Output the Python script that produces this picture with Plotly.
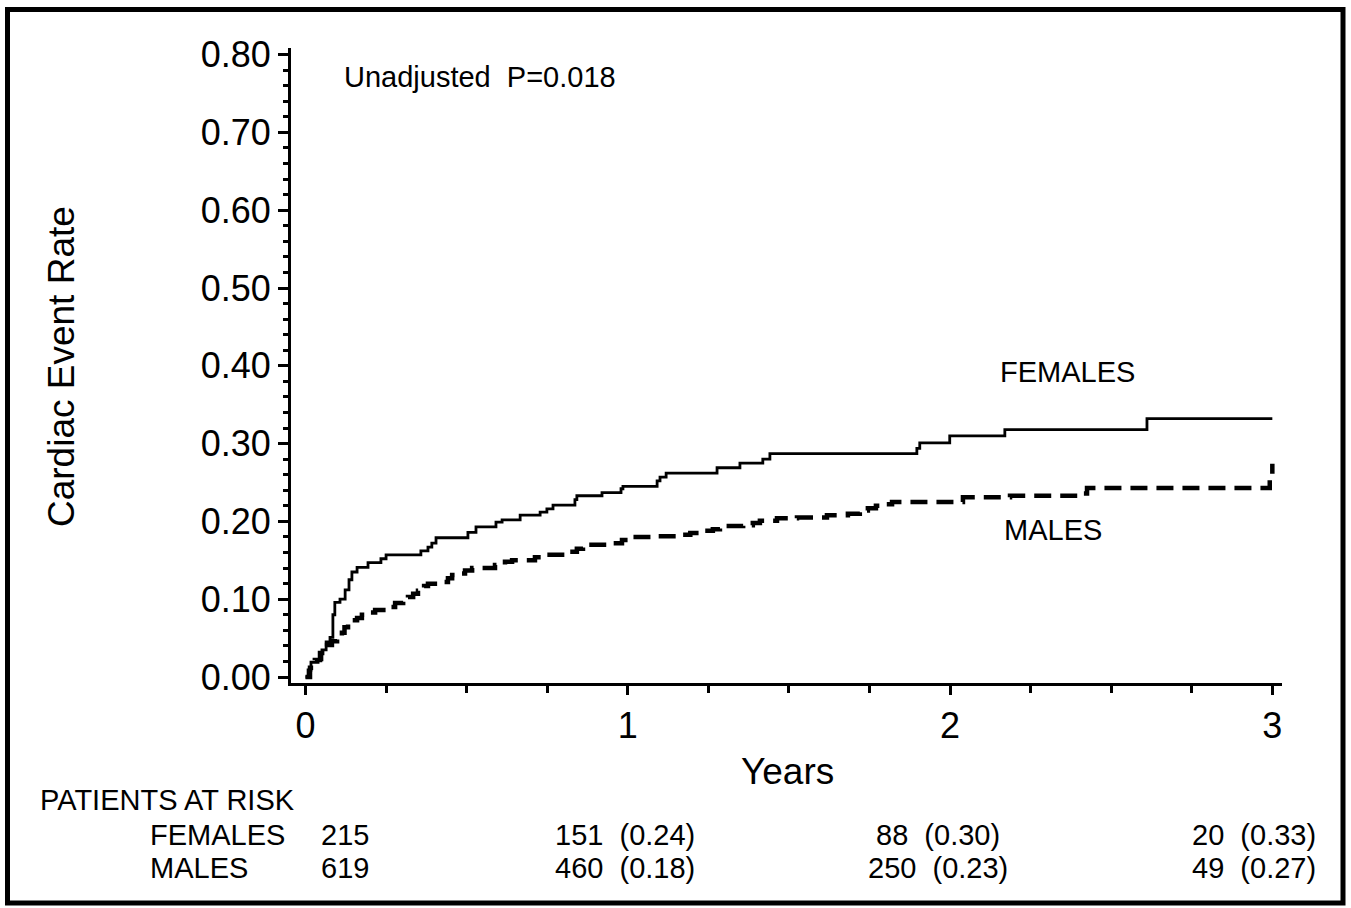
import plotly.graph_objects as go

# ---- data ----
fem_x = [0.0, 0.008, 0.017, 0.039, 0.051, 0.064, 0.076, 0.085, 0.091, 0.107, 0.123, 0.135, 0.144,
         0.160, 0.194, 0.234, 0.250, 0.358, 0.380, 0.392, 0.405, 0.504, 0.529, 0.591, 0.610,
         0.666, 0.728, 0.749, 0.768, 0.836, 0.842, 0.920, 0.979, 0.985, 1.091, 1.100, 1.119,
         1.277, 1.348, 1.419, 1.441, 1.897, 1.906, 1.999, 2.170, 2.611, 3.0]
fem_y = [0.0, 0.009, 0.019, 0.022, 0.035, 0.045, 0.051, 0.080, 0.096, 0.100, 0.112, 0.125, 0.135,
         0.141, 0.147, 0.152, 0.157, 0.162, 0.167, 0.172, 0.179, 0.186, 0.193, 0.199, 0.202,
         0.208, 0.212, 0.216, 0.221, 0.228, 0.233, 0.237, 0.242, 0.245, 0.252, 0.257, 0.262,
         0.269, 0.275, 0.280, 0.287, 0.294, 0.301, 0.310, 0.318, 0.332, 0.332]

male_x = [0.0, 0.014, 0.029, 0.045, 0.067, 0.082, 0.098, 0.113, 0.121, 0.132, 0.144, 0.160, 0.175,
          0.191, 0.216, 0.253, 0.278, 0.303, 0.318, 0.334, 0.349, 0.368, 0.380, 0.424, 0.442,
          0.455, 0.473, 0.495, 0.517, 0.588, 0.619, 0.641, 0.712, 0.743, 0.808, 0.842, 0.861,
          0.935, 0.982, 1.001, 1.091, 1.163, 1.194, 1.225, 1.264, 1.286, 1.358, 1.388, 1.410,
          1.463, 1.525, 1.618, 1.683, 1.720, 1.745, 1.770, 1.792, 1.820, 2.040, 2.186, 2.404,
          2.425, 2.992, 3.0]
male_y = [0.0, 0.012, 0.022, 0.031, 0.041, 0.046, 0.051, 0.057, 0.064, 0.069, 0.073, 0.076, 0.080,
          0.083, 0.086, 0.090, 0.095, 0.099, 0.103, 0.107, 0.111, 0.117, 0.120, 0.122, 0.127,
          0.131, 0.133, 0.137, 0.140, 0.144, 0.148, 0.150, 0.154, 0.157, 0.161, 0.165, 0.170,
          0.172, 0.176, 0.180, 0.181, 0.183, 0.185, 0.188, 0.190, 0.194, 0.195, 0.198, 0.201,
          0.204, 0.205, 0.208, 0.210, 0.214, 0.217, 0.220, 0.222, 0.225, 0.231, 0.233, 0.236,
          0.243, 0.256, 0.274]

risk_groups = ["FEMALES", "MALES"]
risk_cols = ["215", "151  (0.24)", "88  (0.30)", "20  (0.33)"]
risk_cols_m = ["619", "460  (0.18)", "250  (0.23)", "49  (0.27)"]
y_ticks = [0.0, 0.1, 0.2, 0.3, 0.4, 0.5, 0.6, 0.7, 0.8]
x_ticks = [0, 1, 2, 3]

FONT = "Liberation Sans, Arial, Helvetica, sans-serif"
W, H = 1351, 908
L, R, T, B = 291, 1282, 48, 683


def px(xpix):
    return (xpix - L) / (R - L)


def py(ypix):
    return (B - ypix) / (B - T)


fig = go.Figure()
fig.add_trace(go.Scatter(x=fem_x, y=fem_y, mode="lines", line=dict(shape="hv", color="black", width=2.8),
                         name="FEMALES", showlegend=False))
fig.add_trace(go.Scatter(x=male_x, y=male_y, mode="lines",
                         line=dict(shape="hv", color="black", width=4.5, dash="17px,9px"),
                         name="MALES", showlegend=False))

ann = []
def text(xpix, ypix, s, size, xanchor="left", yanchor="middle", angle=0):
    ann.append(dict(x=px(xpix), y=py(ypix), xref="paper", yref="paper", text=s, showarrow=False,
                    xanchor=xanchor, yanchor=yanchor, textangle=angle,
                    font=dict(family=FONT, size=size, color="black")))

TS = 29
text(342, 77, "Unadjusted\u00a0 P=0.018", TS)
text(1067, 372, "FEMALES", TS, xanchor="center")
text(1053, 530, "MALES", TS, xanchor="center")
text(787, 771, "Years", 37, xanchor="center")
text(62, 367, "Cardiac Event Rate", 37, xanchor="center", angle=-90)
text(38, 800, "PATIENTS AT RISK", TS)
text(148, 835, risk_groups[0], TS)
text(148, 868, risk_groups[1], TS)
col_centers = [345, 625, 938, 1254]
for c, f, m in zip(col_centers, risk_cols, risk_cols_m):
    text(c, 835, f.replace("  ", "\u00a0 "), TS, xanchor="center")
    text(c, 868, m.replace("  ", "\u00a0 "), TS, xanchor="center")

fig.update_layout(
    width=W, height=H,
    margin=dict(l=L, r=W - R, t=T, b=H - B, pad=0),
    paper_bgcolor="white", plot_bgcolor="white",
    showlegend=False,
    annotations=ann,
    shapes=[dict(type="rect", xref="paper", yref="paper",
                 x0=px(7.5), x1=px(1343), y0=py(903), y1=py(9.5),
                 line=dict(color="black", width=5), fillcolor="rgba(0,0,0,0)")],
    xaxis=dict(range=[-0.045, 3.03], tickvals=x_ticks, ticktext=[str(v) for v in x_ticks],
               showline=True, linecolor="black", linewidth=3, showgrid=False, zeroline=False,
               ticks="outside", ticklen=9, tickwidth=2.5, tickcolor="black",
               minor=dict(dtick=0.25, ticks="outside", ticklen=7, tickwidth=2.5, tickcolor="black",
                          showgrid=False),
               tickfont=dict(family=FONT, size=36, color="black"), fixedrange=True),
    yaxis=dict(range=[-0.0077, 0.8085], tickvals=y_ticks, ticktext=[f"{v:.2f}" for v in y_ticks],
               showline=True, linecolor="black", linewidth=3, showgrid=False, zeroline=False,
               ticks="outside", ticklen=10, tickwidth=2.5, tickcolor="black",
               minor=dict(dtick=0.02, tick0=0, ticks="outside", ticklen=5, tickwidth=2.5,
                          tickcolor="black", showgrid=False),
               tickfont=dict(family=FONT, size=36, color="black"), fixedrange=True),
)

fig.write_html("out.html")
